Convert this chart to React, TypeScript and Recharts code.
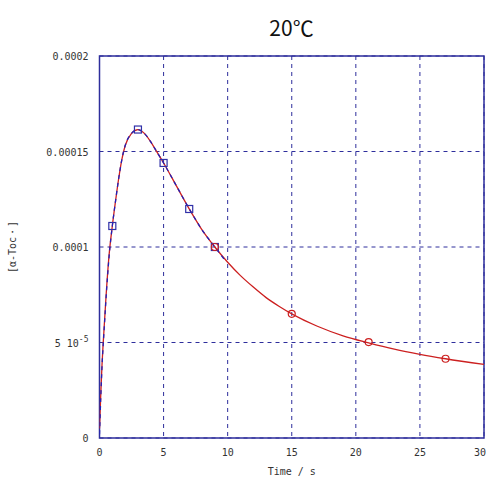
import React from 'react'
import {
    ComposedChart, Line, Scatter, XAxis, YAxis, CartesianGrid, ReferenceArea,
} from 'recharts'

// fitted curve (red, solid) — values in units of 1e-5
const fitTime = [0, 0.1, 0.2, 0.3, 0.4, 0.5, 0.75, 1, 1.25, 1.5, 1.75, 2, 2.5, 3, 3.5, 4, 4.5, 5, 6, 7, 8, 9, 10, 11, 12, 13, 14, 15, 17, 19, 21, 23, 25, 27, 30]
const fitValue = [0.5, 2.3, 3.9, 5.1, 6.2, 7.3, 9.6, 11.1, 12.4, 13.6, 14.6, 15.3, 15.95, 16.15, 15.95, 15.5, 14.95, 14.4, 13.2, 12.0, 10.9, 10.0, 9.2, 8.5, 7.9, 7.35, 6.9, 6.5, 5.85, 5.35, 4.98, 4.65, 4.38, 4.15, 3.85]

// simulated curve (blue, dashed), early part only
const simTime = [0, 0.1, 0.2, 0.3, 0.4, 0.5, 0.75, 1, 1.25, 1.5, 1.75, 2, 2.5, 3, 3.5, 4, 4.5, 5, 6, 7, 8, 9, 9.8]
const simValue = [0.2, 2.1, 3.8, 5.0, 6.1, 7.2, 9.5, 11.1, 12.4, 13.6, 14.6, 15.3, 15.95, 16.15, 15.95, 15.5, 14.95, 14.4, 13.2, 12.0, 10.9, 10.0, 9.3]

// measured points
const squareTime = [1, 3, 5, 7, 9]
const squareValue = [11.1, 16.15, 14.4, 11.99, 10.0]
const circleTime = [9, 15, 21, 27]
const circleValue = [10.0, 6.5, 5.02, 4.15]

const xTicks = [0, 5, 10, 15, 20, 25, 30]
const yTicks = [0, 5e-5, 1e-4, 1.5e-4, 2e-4]
const yTickLabels = ['0', '5 10', '0.0001', '0.00015', '0.0002']

const NAVY = '#2e2e9c'
const RED = '#cc2020'
const BLUE = '#2020b8'
const MONO = '"DejaVu Sans Mono", monospace'

const toRows = (t: number[], v: number[]) => t.map((x, i) => ({ t: x, v: v[i] * 1e-5 }))

const fitData = toRows(fitTime, fitValue)
const simData = toRows(simTime, simValue)
const squareData = toRows(squareTime, squareValue)
const circleData = toRows(circleTime, circleValue)

const YTick = (props: any) => {
    const { x, y, payload, index } = props
    const label = yTickLabels[index]
    return (
        <text x={x} y={y} dy={4} textAnchor="end" fontSize={10} fontFamily={MONO} fill="#333">
            {label}
            {payload.value === 5e-5 && <tspan dy={-5} fontSize={8}>-5</tspan>}
        </text>
    )
}

const XTick = (props: any) => {
    const { x, y, payload } = props
    return (
        <text x={x} y={y} dy={10} textAnchor="middle" fontSize={10} fontFamily={MONO} fill="#333">
            {payload.value}
        </text>
    )
}

const SquareMark = (props: any) => (
    <rect x={props.cx - 3.5} y={props.cy - 3.5} width={7} height={7} fill="none" stroke="#3030a8" strokeWidth={1.2} />
)

const CircleMark = (props: any) => (
    <circle cx={props.cx} cy={props.cy} r={3.5} fill="none" stroke={RED} strokeWidth={1.2} />
)

export default function App() {
    return (
        <div style={{ position: 'absolute', top: 0, left: 0, width: 488, height: 481, overflow: 'hidden', background: '#fff' }}>
            <div style={{
                position: 'absolute', top: 12, left: 99, width: 385, textAlign: 'center',
                fontFamily: '"Noto Sans CJK JP", sans-serif', fontSize: 21, color: '#111',
            }}>
                20℃
            </div>
            <ComposedChart width={488} height={481} margin={{ top: 56, right: 4, left: 0, bottom: 0 }}>
                <CartesianGrid stroke={NAVY} strokeDasharray="4 4" strokeWidth={1} />
                <XAxis
                    type="number" dataKey="t" domain={[0, 30]} ticks={xTicks} allowDataOverflow
                    height={43} tickLine={false} axisLine={false} tickSize={0} tickMargin={8} tick={<XTick />}
                    label={{ value: 'Time / s', position: 'insideBottom', offset: 6, fontSize: 10, fontFamily: MONO, fill: '#333' }}
                />
                <YAxis
                    type="number" dataKey="v" domain={[0, 2e-4]} ticks={yTicks} allowDataOverflow
                    width={99.5} tickLine={false} axisLine={false} tickSize={0} tickMargin={11} tick={<YTick />}
                    label={{ value: '[α-Toc・]', angle: -90, position: 'insideLeft', offset: 12, fontSize: 10, fontFamily: MONO, fill: '#333', style: { textAnchor: 'middle' } }}
                />
                <ReferenceArea x1={0} x2={30} y1={0} y2={2e-4} fill="none" stroke={NAVY} strokeWidth={1.5} ifOverflow="visible" />
                <Line data={fitData} dataKey="v" type="monotone" stroke={RED} strokeWidth={1.3} dot={false} isAnimationActive={false} />
                <Line data={simData} dataKey="v" type="monotone" stroke={BLUE} strokeWidth={1.3} strokeDasharray="4 4" dot={false} isAnimationActive={false} />
                <Scatter data={squareData} dataKey="v" shape={<SquareMark />} isAnimationActive={false} />
                <Scatter data={circleData} dataKey="v" shape={<CircleMark />} isAnimationActive={false} />
            </ComposedChart>
        </div>
    )
}
